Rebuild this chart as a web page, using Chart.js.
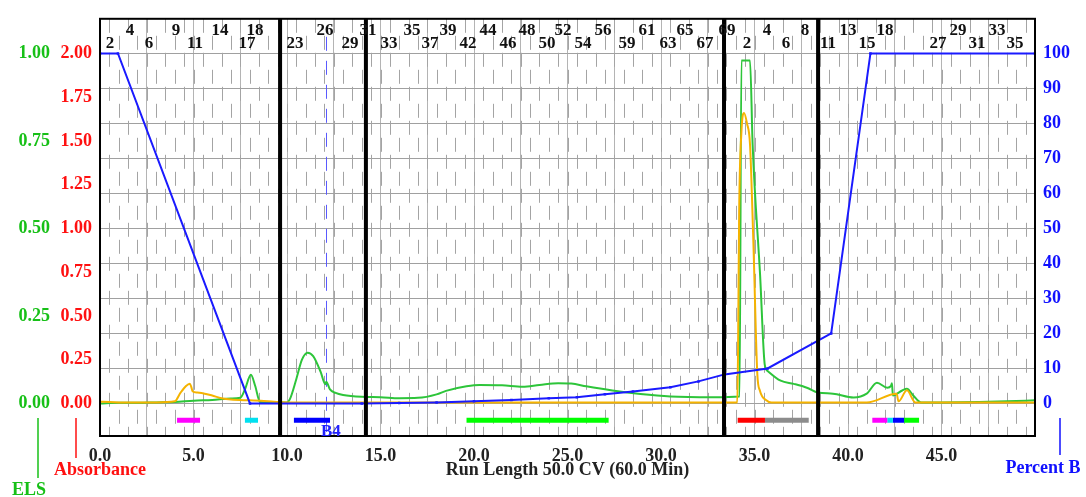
<!DOCTYPE html>
<html>
<head>
<meta charset="utf-8">
<script src="https://cdn.jsdelivr.net/npm/chart.js@4.4.1/dist/chart.umd.min.js"></script>
<style>
  body { margin: 0; background: #fff; }
  #wrap { width: 1086px; height: 497px; }
</style>
</head>
<body>
<div id="wrap"><canvas id="myChart"></canvas></div>
<script>
// run length in CV for every series
const elsX = [0, 1, 2, 3, 4, 5, 6, 7, 7.5, 7.75, 8.07, 8.3, 8.56, 9, 10, 10.16, 10.5, 10.8, 11.1, 11.4, 11.8, 12.05, 12.1, 12.3, 12.6, 13, 14, 15, 16, 17, 18, 18.5, 19.6, 20.3, 21.5, 22.6, 23.5, 24.5, 25.2, 26, 27.4, 28.9, 30.5, 32.8, 34.2, 34.3, 34.76, 34.9, 35.3, 35.55, 35.7, 36.4, 37.1, 37.8, 38.4, 39.2, 40.3, 41, 41.55, 42.1, 42.3, 42.35, 42.4, 42.9, 43.15, 43.5, 43.9, 45, 47, 48.5, 50];
const elsY = [0, 0.002, 0.002, 0.003, 0.004, 0.008, 0.01, 0.014, 0.016, 0.04, 0.082, 0.05, 0.004, 0.003, 0.003, 0.013, 0.07, 0.125, 0.145, 0.135, 0.09, 0.055, 0.062, 0.04, 0.03, 0.024, 0.019, 0.018, 0.015, 0.016, 0.026, 0.036, 0.049, 0.053, 0.052, 0.048, 0.053, 0.058, 0.057, 0.049, 0.037, 0.027, 0.02, 0.018, 0.02, 0.98, 0.98, 0.74, 0.366, 0.11, 0.093, 0.065, 0.056, 0.045, 0.031, 0.028, 0.017, 0.028, 0.059, 0.045, 0.05, 0.058, 0.023, 0.037, 0.042, 0.022, 0.003, 0.003, 0.004, 0.006, 0.009];

const absX = [0, 0.5, 1.5, 3, 4, 4.3, 4.6, 4.8, 4.88, 4.95, 5.2, 5.6, 6, 6.5, 7, 8, 8.6, 9.3, 10, 20, 34.08, 34.12, 34.18, 34.3, 34.44, 34.6, 34.76, 34.94, 35.15, 35.29, 35.65, 35.9, 41, 42.6, 42.7, 43.15, 43.6, 50];
const absY = [0.01, 0.008, 0.005, 0.006, 0.012, 0.06, 0.1, 0.113, 0.095, 0.07, 0.062, 0.056, 0.045, 0.03, 0.022, 0.018, 0.016, 0.01, 0.006, 0.005, 0.006, 0.3, 1.1, 1.55, 1.66, 1.6, 1.48, 0.92, 0.17, 0.073, 0.017, 0.006, 0.005, 0.055, 0.012, 0.075, 0.006, 0.006];

const gradX = [0, 0.96, 8.02, 14, 16, 18, 20, 22, 24, 25.5, 27, 28.5, 30.5, 32, 33.4, 35.7, 39.1, 41.2, 50];
const gradB = [100, 100, 0, 0, 0.1, 0.3, 0.6, 1.0, 1.5, 1.8, 2.6, 3.4, 4.6, 6.3, 8.3, 10, 20, 100, 100];

// collected fractions (start, end, colour)
const barStart = [4.12, 7.75, 10.37, 19.6, 34.1, 35.56, 41.3, 42.1, 42.4, 43.0];
const barEnd = [5.35, 8.45, 12.3, 27.2, 35.56, 37.9, 42.1, 42.4, 43.0, 43.8];
const barColor = ['#ff00ff', '#00e0f0', '#0000ff', '#00ff00', '#ff0000', '#8c8c8c', '#ff00ff', '#00e0f0', '#0000ff', '#00ff00'];
const barLevel = -4.8;

const rackLines = [9.63, 14.22, 33.37, 38.4];
const b4Line = 12.09;

const fracLabels = ['2', '4', '6', '9', '11', '14', '17', '18', '23', '26', '29', '31', '33', '35', '37', '39', '42', '44', '46', '48', '50', '52', '54', '56', '59', '61', '63', '65', '67', '69', '2', '4', '6', '8', '11', '13', '15', '18', '27', '29', '31', '33', '35'];
const fracLabelX = [0.53, 1.6, 2.62, 4.06, 5.08, 6.42, 7.86, 8.29, 10.43, 12.03, 13.37, 14.33, 15.45, 16.68, 17.65, 18.61, 19.68, 20.75, 21.82, 22.83, 23.9, 24.76, 25.83, 26.9, 28.18, 29.25, 30.37, 31.28, 32.35, 33.53, 34.6, 35.67, 36.68, 37.7, 38.93, 40.0, 41.02, 41.98, 44.81, 45.88, 46.9, 47.97, 48.93];

const absTicks = [0, 0.25, 0.5, 0.75, 1, 1.25, 1.5, 1.75, 2];
const elsTicks = [0, 0.25, 0.5, 0.75, 1];
const bTicks = [0, 10, 20, 30, 40, 50, 60, 70, 80, 90, 100];

const serif = 'Liberation Serif';
const tickFont = { family: serif, size: 18, weight: 'bold' };

const pts = (xs, ys) => xs.map((v, i) => ({ x: v, y: ys[i] }));

const datasets = [
  {
    label: 'Percent B', data: pts(gradX, gradB), yAxisID: 'yB',
    borderColor: '#1a1aff', borderWidth: 2, pointRadius: 1.8, pointStyle: 'rect',
    pointBackgroundColor: '#1a1aff', pointBorderWidth: 0, tension: 0
  },
  {
    label: 'Absorbance', data: pts(absX, absY), yAxisID: 'yAbs',
    borderColor: '#f5b300', borderWidth: 2, pointRadius: 0, cubicInterpolationMode: 'monotone'
  },
  {
    label: 'ELS', data: pts(elsX, elsY), yAxisID: 'yELS',
    borderColor: '#2dc53a', borderWidth: 2, pointRadius: 0, cubicInterpolationMode: 'monotone'
  }
];

barStart.forEach((s, i) => {
  datasets.push({
    data: [{ x: s, y: barLevel }, { x: barEnd[i], y: barLevel }], yAxisID: 'yB',
    borderColor: barColor[i], borderWidth: 5, pointRadius: 0, borderCapStyle: 'butt'
  });
});

const fractionPlugin = {
  id: 'fractionMarks',
  beforeDatasetsDraw(chart) {
    const { ctx, chartArea: a, scales: { x } } = chart;
    ctx.save();
    ctx.strokeStyle = '#a4a4a4';
    ctx.lineWidth = 1;
    ctx.setLineDash([14, 20]);
    for (let v = 0.5, i = 0; v < 50; v += 0.5, i++) {
      const px = Math.round(x.getPixelForValue(v)) + 0.5;
      ctx.lineDashOffset = i % 2 ? 17 : 0;
      ctx.beginPath(); ctx.moveTo(px, a.top); ctx.lineTo(px, a.bottom); ctx.stroke();
    }
    // B4 marker line
    ctx.strokeStyle = '#5a5aff';
    ctx.setLineDash([14, 10]);
    ctx.lineDashOffset = 0;
    const bx = Math.round(x.getPixelForValue(b4Line)) + 0.5;
    ctx.beginPath(); ctx.moveTo(bx, a.top + 18); ctx.lineTo(bx, a.bottom - 4); ctx.stroke();
    ctx.restore();
  },
  afterDatasetsDraw(chart) {
    const { ctx, chartArea: a, scales: { x } } = chart;
    ctx.save();
    ctx.strokeStyle = '#000';
    ctx.lineWidth = 4;
    rackLines.forEach(v => {
      const px = x.getPixelForValue(v);
      ctx.beginPath(); ctx.moveTo(px, a.top); ctx.lineTo(px, a.bottom); ctx.stroke();
    });
    ctx.lineWidth = 2;
    ctx.strokeRect(a.left, a.top, a.right - a.left, a.bottom - a.top);

    ctx.font = 'bold 17px ' + serif;
    ctx.textAlign = 'center';
    ctx.textBaseline = 'middle';
    ctx.fillStyle = '#111';
    fracLabels.forEach((t, i) => {
      ctx.fillText(t, x.getPixelForValue(fracLabelX[i]), a.top + (i % 2 ? 12 : 25));
    });
    ctx.fillStyle = '#2020ff';
    ctx.fillText('B4', x.getPixelForValue(12.35), a.bottom - 4);
    ctx.restore();
  },
  afterDraw(chart) {
    const { ctx, chartArea: a } = chart;
    ctx.save();
    ctx.font = 'bold 18px ' + serif;
    ctx.textAlign = 'center';
    ctx.textBaseline = 'middle';
    ctx.fillStyle = '#222';
    ctx.fillText('Run Length 50.0 CV (60.0 Min)', (a.left + a.right) / 2, 470);
    ctx.fillStyle = '#ff1010';
    ctx.fillText('Absorbance', 100, 470);
    ctx.fillStyle = '#17c017';
    ctx.fillText('ELS', 29, 490);
    ctx.fillStyle = '#1010ff';
    ctx.fillText('Percent B', 1043, 468);
    ctx.lineWidth = 1.5;
    ctx.strokeStyle = '#ff1010';
    ctx.beginPath(); ctx.moveTo(76, 418); ctx.lineTo(76, 458); ctx.stroke();
    ctx.strokeStyle = '#17c017';
    ctx.beginPath(); ctx.moveTo(38, 418); ctx.lineTo(38, 478); ctx.stroke();
    ctx.strokeStyle = '#1010ff';
    ctx.beginPath(); ctx.moveTo(1060, 418); ctx.lineTo(1060, 455); ctx.stroke();
    ctx.restore();
  }
};

new Chart(document.getElementById('myChart'), {
  type: 'line',
  data: { datasets: datasets },
  plugins: [fractionPlugin],
  options: {
    animation: false,
    responsive: true,
    maintainAspectRatio: false,
    layout: { padding: { top: 13, left: 0, right: 0, bottom: 0 } },
    plugins: { legend: { display: false }, tooltip: { enabled: false } },
    scales: {
      x: {
        type: 'linear', min: 0, max: 50,
        afterBuildTicks: axis => { axis.ticks = [0, 2.5, 5, 7.5, 10, 12.5, 15, 17.5, 20, 22.5, 25, 27.5, 30, 32.5, 35, 37.5, 40, 42.5, 45, 47.5].map(v => ({ value: v })); },
        afterFit: axis => { axis.height = 61; },
        border: { display: false },
        grid: { color: '#b4b4b4', drawTicks: false },
        ticks: {
          autoSkip: false, maxRotation: 0, padding: 10, color: '#222', font: tickFont,
          callback: v => (v % 5 === 0 ? v.toFixed(1) : '')
        }
      },
      yAbs: {
        position: 'left', min: -0.186, max: 2.198,
        afterBuildTicks: axis => { axis.ticks = absTicks.map(v => ({ value: v })); },
        afterFit: axis => { axis.width = 44; },
        border: { display: false },
        grid: { display: false, drawTicks: false },
        ticks: { padding: 8, color: '#ff1010', font: tickFont, callback: v => v.toFixed(2) }
      },
      yELS: {
        position: 'left', min: -0.093, max: 1.099,
        afterBuildTicks: axis => { axis.ticks = elsTicks.map(v => ({ value: v })); },
        afterFit: axis => { axis.width = 56; },
        border: { display: false },
        grid: { display: false, drawTicks: false },
        ticks: { padding: 6, color: '#17c017', font: tickFont, callback: v => v.toFixed(2) }
      },
      yB: {
        position: 'right', min: -9.3, max: 109.9,
        afterBuildTicks: axis => { axis.ticks = bTicks.map(v => ({ value: v })); },
        afterFit: axis => { axis.width = 51; },
        border: { display: false },
        grid: { color: '#a0a0a0', drawTicks: false },
        ticks: { padding: 8, color: '#1010ff', font: tickFont }
      }
    }
  }
});
</script>
</body>
</html>
